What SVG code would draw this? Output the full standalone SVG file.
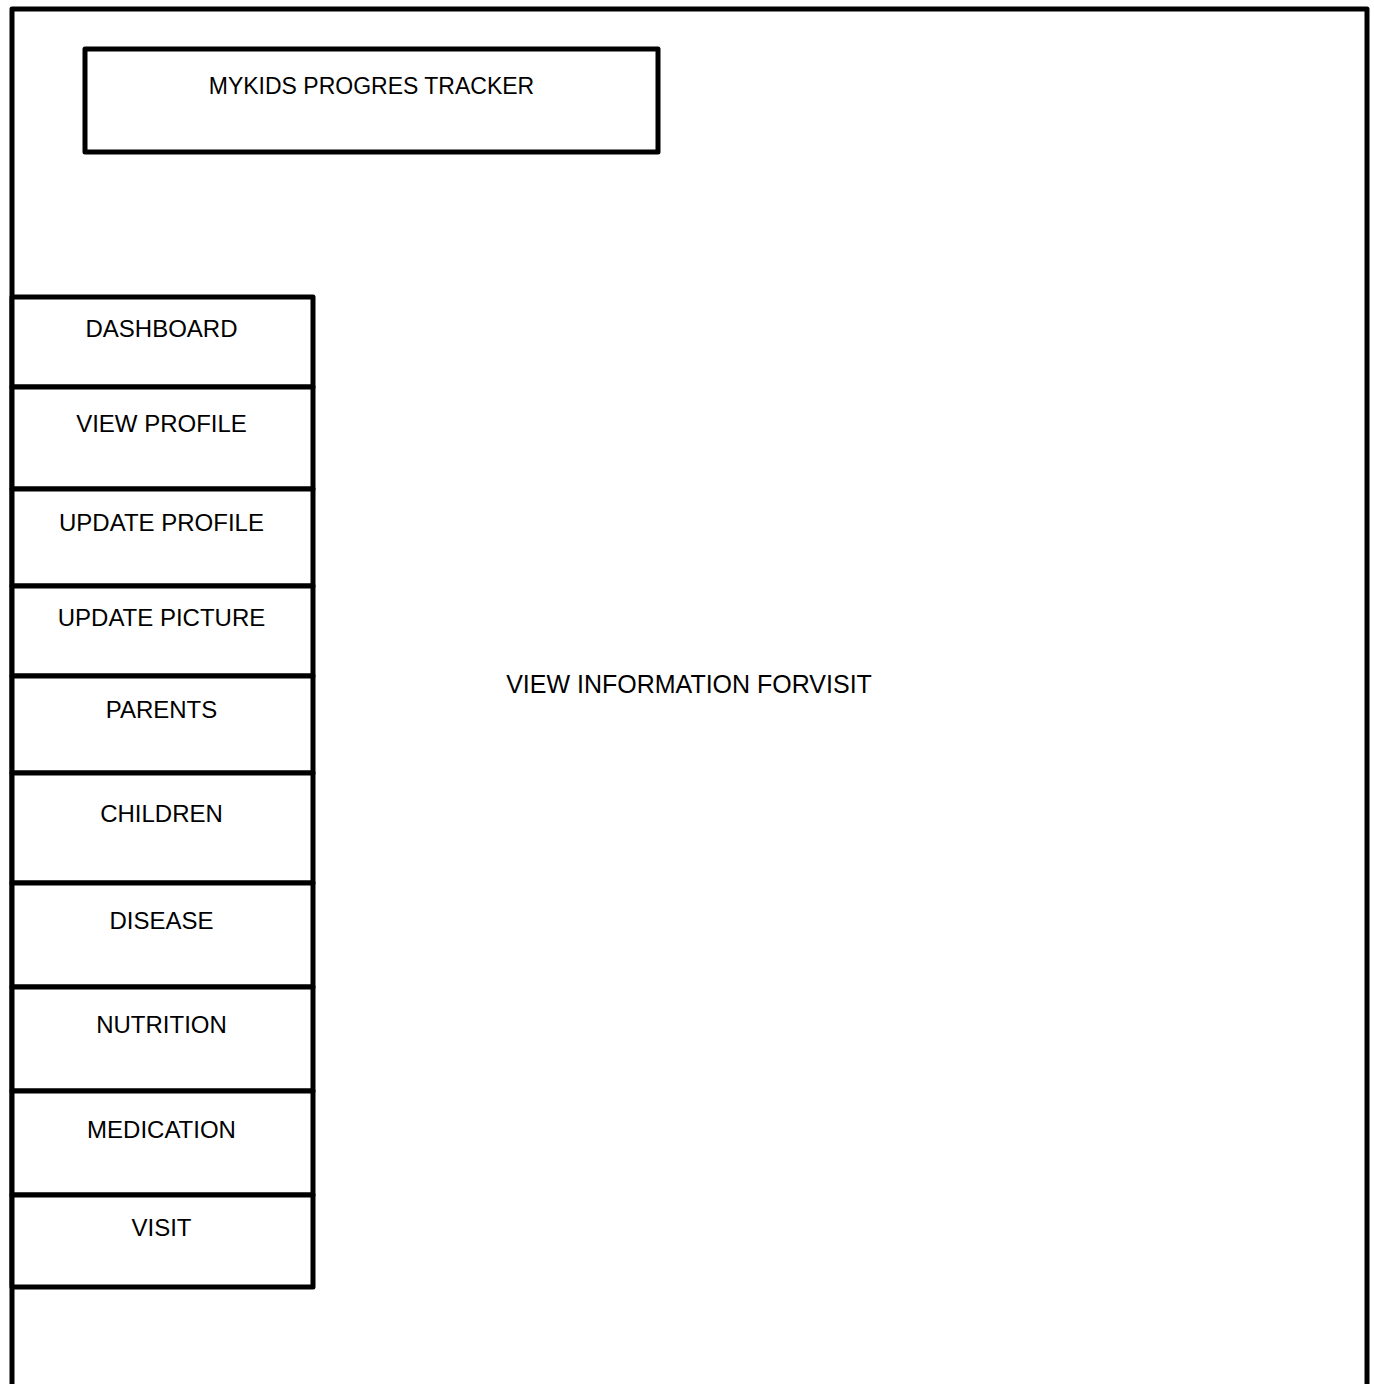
<svg xmlns="http://www.w3.org/2000/svg" width="1374" height="1384" viewBox="0 0 1374 1384">
<style>
.ln{fill:none;stroke:#000;stroke-width:5;stroke-linejoin:round;stroke-linecap:round}
.bx{fill:#fff;stroke:#000;stroke-width:5;stroke-linejoin:round}
.t{font-family:"Liberation Sans",Arial,sans-serif;font-size:24px;fill:#000;text-anchor:middle}
</style>
<rect width="1374" height="1384" fill="#fff"/>
<g id="frame"><path class="ln" d="M12,1390 V9 H1367 V1390"/></g>
<g id="title"><rect class="bx" x="85" y="49" width="573" height="103"/><text class="t" x="371.5" y="94" style="font-size:23px">MYKIDS PROGRES TRACKER</text></g>
<g id="menu">
<g id="dashboard"><rect class="bx" x="12" y="297" width="301" height="90"/><text class="t" x="161.5" y="337">DASHBOARD</text></g>
<g id="view-profile"><rect class="bx" x="12" y="387" width="301" height="102"/><text class="t" x="161.5" y="432">VIEW PROFILE</text></g>
<g id="update-profile"><rect class="bx" x="12" y="489" width="301" height="97"/><text class="t" x="161.5" y="531">UPDATE PROFILE</text></g>
<g id="update-picture"><rect class="bx" x="12" y="586" width="301" height="90"/><text class="t" x="161.5" y="626">UPDATE PICTURE</text></g>
<g id="parents"><rect class="bx" x="12" y="676" width="301" height="97"/><text class="t" x="161.5" y="718">PARENTS</text></g>
<g id="children"><rect class="bx" x="12" y="773" width="301" height="110"/><text class="t" x="161.5" y="822">CHILDREN</text></g>
<g id="disease"><rect class="bx" x="12" y="883" width="301" height="104"/><text class="t" x="161.5" y="929">DISEASE</text></g>
<g id="nutrition"><rect class="bx" x="12" y="987" width="301" height="104"/><text class="t" x="161.5" y="1033">NUTRITION</text></g>
<g id="medication"><rect class="bx" x="12" y="1091" width="301" height="104"/><text class="t" x="161.5" y="1138">MEDICATION</text></g>
<g id="visit"><rect class="bx" x="12" y="1195" width="301" height="92"/><text class="t" x="161.5" y="1236">VISIT</text></g>
</g>
<g id="content"><text class="t" x="689" y="693" style="font-size:25px">VIEW INFORMATION FORVISIT</text></g>
<g id="connectors"/>
</svg>
